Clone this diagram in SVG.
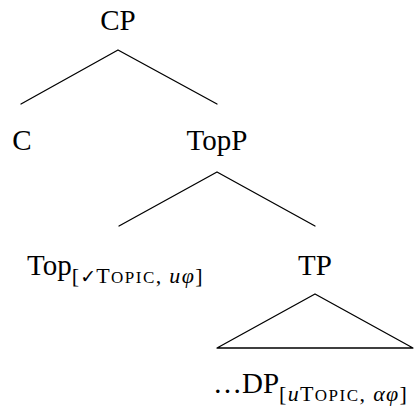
<svg xmlns="http://www.w3.org/2000/svg" width="417" height="408" viewBox="0 0 417 408">
<style>
.t{font-family:"Liberation Serif",serif;font-size:29px;fill:#000}
.s{font-size:22px;letter-spacing:1.3px}
.sc{font-size:17px;letter-spacing:1.5px}
.i{font-style:italic}
.ck{font-family:"DejaVu Sans",sans-serif;font-size:19px}
.e{stroke:#000;stroke-width:1.3;fill:none;stroke-linecap:round;stroke-linejoin:round}
</style>
<rect width="417" height="408" fill="#fff"/>
<g id="connectors">
<path class="e" d="M21 104 L118 50 L217 104"/>
<path class="e" d="M119 226 L217 172 L315 226"/>
<path class="e" d="M217 348 L315 294 L413 348 Z"/>
</g>
<g id="node-CP"><text class="t" x="118" y="30" text-anchor="middle">CP</text></g>
<g id="node-C"><text class="t" x="22" y="150" text-anchor="middle">C</text></g>
<g id="node-TopP"><text class="t" x="217" y="150" text-anchor="middle">TopP</text></g>
<g id="node-Top"><text class="t" x="27" y="275">Top<tspan class="s" dy="8">[</tspan><tspan class="ck">✓</tspan><tspan class="s">T</tspan><tspan class="sc">OPIC</tspan><tspan class="s">, </tspan><tspan class="s i">uφ</tspan><tspan class="s">]</tspan></text></g>
<g id="node-TP"><text class="t" x="315" y="275" text-anchor="middle">TP</text></g>
<g id="node-DP"><text class="t" x="213" y="393">…DP<tspan class="s" dy="8">[</tspan><tspan class="s i">u</tspan><tspan class="s">T</tspan><tspan class="sc">OPIC</tspan><tspan class="s">, </tspan><tspan class="s i">αφ</tspan><tspan class="s">]</tspan></text></g>
</svg>
